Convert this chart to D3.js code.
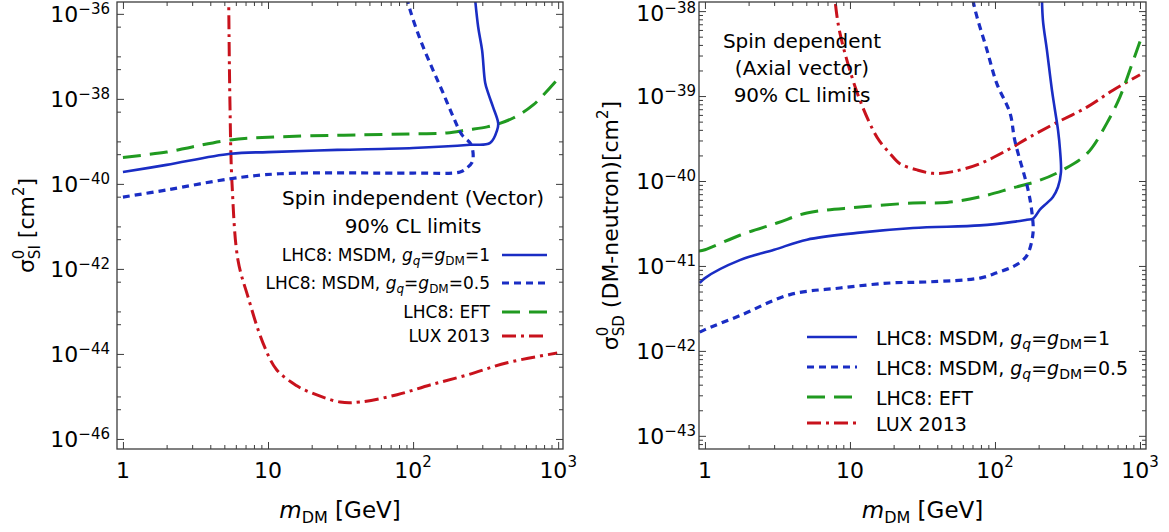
<!DOCTYPE html>
<html>
<head>
<meta charset="utf-8">
<script src="https://cdn.jsdelivr.net/npm/d3@7"></script>
<style>
body { margin: 0; background: #fff; }
svg text { font-family: "DejaVu Sans", "Liberation Sans", sans-serif; fill: #000; white-space: pre; }
</style>
</head>
<body>
<div id="chart"></div>
<script>

// ---------- data ----------
// spin independent (left panel)
var siMsdm1Mass   = [1, 2, 5.5, 10, 30, 100, 247, 340, 380, 386, 356, 329, 314, 299, 281, 264];
var siMsdm1Sigma  = [1.9e-40, 2.8e-40, 5.1e-40, 5.6e-40, 6.3e-40, 7e-40, 8.3e-40, 9.2e-40, 1.86e-39, 2.7e-39, 6.4e-39, 1.38e-38, 2.4e-38, 1.4e-37, 4.9e-37, 3.6e-36];
var siMsdm05Mass  = [1, 2, 5.5, 12, 100, 211, 236, 255, 259, 247, 218, 189, 161, 137, 112, 95.3, 88];
var siMsdm05Sigma = [4.9e-41, 7.2e-41, 1.32e-40, 1.73e-40, 1.8e-40, 1.9e-40, 2.4e-40, 3.2e-40, 5.4e-40, 9.2e-40, 1.4e-39, 3.8e-39, 1.38e-38, 4.8e-38, 2.5e-37, 1.24e-36, 3.6e-36];
var siEftMass     = [1, 2, 3, 5.5, 12, 100, 171, 236, 324, 386, 490, 673, 984];
var siEftSigma    = [4.2e-40, 5.6e-40, 7.4e-40, 1.08e-39, 1.28e-39, 1.5e-39, 1.58e-39, 1.86e-39, 2.19e-39, 2.57e-39, 3.55e-39, 7.2e-39, 2.8e-38];
var siLuxMass     = [5.35, 5.46, 5.65, 6.21, 7.28, 9.24, 11.5, 15.8, 18, 31.4, 43, 77.6, 131, 236, 445, 985];
var siLuxSigma    = [4e-36, 9.5e-39, 1e-40, 1.6e-42, 2.2e-43, 1.8e-44, 4.2e-45, 1.78e-45, 1.4e-45, 7.4e-46, 7.4e-46, 1.1e-45, 1.86e-45, 3.2e-45, 6.2e-45, 1.05e-44];

// spin dependent (right panel)
var sdMsdm1Mass   = [0.92, 1, 1.74, 3, 5.05, 11.2, 27.2, 78.8, 133, 166, 183, 204, 228, 251, 272, 285, 281, 272, 259, 247, 228, 214, 210];
var sdMsdm1Sigma  = [6.3e-42, 7.2e-42, 1.17e-41, 1.55e-41, 2.04e-41, 2.45e-41, 2.8e-41, 3.0e-41, 3.3e-41, 3.5e-41, 3.6e-41, 4.6e-41, 5.5e-41, 6.5e-41, 8.5e-41, 1.26e-40, 2.3e-40, 4e-40, 6.9e-40, 1.18e-39, 3.5e-39, 7.9e-39, 2e-38];
var sdMsdm05Mass  = [0.92, 1, 1.74, 3.86, 8.53, 18.9, 35.6, 78.8, 103, 133, 156, 169, 183, 180, 169, 137, 127, 103, 88, 75.2, 70.5, 68];
var sdMsdm05Sigma = [1.66e-42, 1.78e-42, 2.6e-42, 4.6e-42, 5.5e-42, 6.3e-42, 6.5e-42, 7.2e-42, 8.3e-42, 9.8e-42, 1.17e-41, 1.4e-41, 2.45e-41, 4.2e-41, 7.9e-41, 3e-40, 6.3e-40, 1.4e-39, 3.5e-39, 8.5e-39, 1.35e-38, 2.2e-38];
var sdEftMass     = [0.91, 1, 1.74, 3.14, 5.05, 11.2, 27.2, 46.7, 78.8, 133, 204, 294, 431, 591, 728, 853, 1000];
var sdEftSigma    = [1.5e-41, 1.55e-41, 2.3e-41, 3.2e-41, 4.2e-41, 4.9e-41, 5.5e-41, 5.6e-41, 6.5e-41, 8.3e-41, 1.02e-40, 1.35e-40, 2.1e-40, 4.8e-40, 9.8e-40, 2.04e-39, 4.4e-39];
var sdLuxMass     = [7.6, 7.88, 8.53, 11.2, 14.4, 16.1, 18.9, 22.1, 29, 37.4, 51.3, 78.8, 121, 174, 268, 431, 651, 1000];
var sdLuxSigma    = [2.5e-38, 1.35e-38, 5.5e-39, 1.1e-39, 4e-40, 2.9e-40, 2.1e-40, 1.6e-40, 1.35e-40, 1.23e-40, 1.29e-40, 1.6e-40, 2.3e-40, 3.3e-40, 4.9e-40, 7.4e-40, 1.17e-39, 1.78e-39];

// ticks
var xTickVals  = [1, 10, 100, 1000];
var xTickText  = [["1"], ["10"], ["10", "2"], ["10", "3"]];
var siTickExps = [-46, -44, -42, -40, -38, -36];
var sdTickExps = [-43, -42, -41, -40, -39, -38];

// texts
var siNote = ["Spin independent (Vector)", "90% CL limits"];
var sdNote = ["Spin dependent", "(Axial vector)", "90% CL limits"];
var legendKeys = ["msdm1", "msdm05", "eft", "lux"];
var legendTail = { msdm1: "=1", msdm05: "=0.5" };
var legendPlain = { eft: "LHC8: EFT", lux: "LUX 2013" };

// ---------- styles ----------
var blue = "#1a2dc4", green = "#209a20", red = "#c8121c", frameColor = "#3c3c3c";
var styles = {
	msdm1:  { color: blue,  dash: null,       width: 2.6 },
	msdm05: { color: blue,  dash: "7,5",      width: 3.2 },
	eft:    { color: green, dash: "18,9",     width: 3 },
	lux:    { color: red,   dash: "14,5,3,5", width: 3 }
};

var svg = d3.select("#chart").append("svg").attr("width", 1169).attr("height", 532);

// place runs of text one after the other (super/subscripts, italics)
function placeRuns(g, runs, size) {
	var x = 0, stackX = 0;
	runs.forEach(function(r) {
		var x0 = r.stack ? stackX : x;
		var t = g.append("text").attr("x", x0).attr("y", r.y || 0)
			.style("font-size", (r.s || size) + "px").text(r.t);
		if (r.it) t.style("font-style", "italic");
		var w = t.node().getComputedTextLength();
		if (r.stack) x = Math.max(x, x0 + w);
		else { stackX = x0; x = x0 + w; }
	});
	return x;
}

function rich(parent, x, y, runs, size, anchor, rot) {
	var outer = parent.append("g").attr("transform", "translate(" + x + "," + y + ")" + (rot ? " rotate(" + rot + ")" : ""));
	var inner = outer.append("g");
	var w = placeRuns(inner, runs, size);
	var shift = anchor == "middle" ? -w / 2 : (anchor == "end" ? -w : 0);
	inner.attr("transform", "translate(" + shift + ",0)");
	return outer;
}

function legendRuns(key, sub) {
	if (legendPlain[key]) return [{ t: legendPlain[key] }];
	return [{ t: "LHC8: MSDM,\u00a0" }, { t: "g", it: true }, { t: "q", it: true, s: sub, y: 4 },
		{ t: "=" }, { t: "g", it: true }, { t: "DM", s: sub, y: 4 }, { t: legendTail[key] }];
}

function styled(sel, key) {
	var st = styles[key];
	sel.attr("fill", "none").attr("stroke", st.color).attr("stroke-width", st.width)
		.attr("stroke-dasharray", st.dash);
	return sel;
}

function drawPanel(p) {
	var g = svg.append("g");
	var x = d3.scaleLog().domain(p.xDomain).range([p.left, p.right]);
	var y = d3.scaleLog().domain(p.yDomain).range([p.bottom, p.top]);

	svg.append("clipPath").attr("id", "clip" + p.id).append("rect")
		.attr("x", p.left).attr("y", p.top).attr("width", p.right - p.left).attr("height", p.bottom - p.top);

	var line = d3.line().x(function(d) { return x(d[0]); }).y(function(d) { return y(d[1]); })
		.curve(d3.curveCatmullRom.alpha(0.5));

	var curves = g.append("g").attr("clip-path", "url(#clip" + p.id + ")");
	p.series.forEach(function(s) {
		styled(curves.append("path"), s.key).attr("d", line(d3.zip(s.mass, s.sigma)));
	});

	// frame
	g.append("rect").attr("x", p.left).attr("y", p.top).attr("width", p.right - p.left)
		.attr("height", p.bottom - p.top).attr("fill", "none").attr("stroke", frameColor).attr("stroke-width", 1.3);

	// ticks on all four sides, pointing inward
	function ticks(axisFn, scale, vals, len, tr) {
		var a = g.append("g").attr("transform", tr)
			.call(axisFn(scale).tickValues(vals).tickSizeInner(-len).tickSizeOuter(0).tickFormat(""));
		a.select(".domain").remove();
		a.selectAll("line").attr("stroke", frameColor).attr("stroke-width", 1);
	}
	var xMinor = [];
	[1, 10, 100].forEach(function(d) { for (var k = 2; k <= 9; k++) xMinor.push(k * d); });
	var yMajor = p.yTicks.map(function(e) { return Math.pow(10, e); });
	[[xTickVals, 7], [xMinor, 4]].forEach(function(tv) {
		ticks(d3.axisBottom, x, tv[0], tv[1], "translate(0," + p.bottom + ")");
		ticks(d3.axisTop, x, tv[0], tv[1], "translate(0," + p.top + ")");
	});
	[[yMajor, 7], [p.yMinor, 4]].forEach(function(tv) {
		ticks(d3.axisLeft, y, tv[0], tv[1], "translate(" + p.left + ",0)");
		ticks(d3.axisRight, y, tv[0], tv[1], "translate(" + p.right + ",0)");
	});

	// tick labels
	xTickVals.forEach(function(v, i) {
		var r = [{ t: xTickText[i][0] }];
		if (xTickText[i][1]) r.push({ t: xTickText[i][1], s: 15, y: -11 });
		rich(g, x(v), p.bottom + 29, r, 22, "middle");
	});
	p.yTicks.forEach(function(e) {
		// keep the top label's exponent inside the picture
		var base = Math.max(y(Math.pow(10, e)) + 8, 21);
		rich(g, p.left - p.labelGap, base,
			[{ t: "10" }, { t: "\u2212" + Math.abs(e), s: 15, y: -8 }], 22, "end");
	});

	// axis titles
	rich(g, (p.left + p.right) / 2, 518, [{ t: "m", it: true }, { t: "DM", s: 16, y: 5 }, { t: "\u00a0[GeV]" }], 23, "middle");
	rich(g, p.yTitleX, (p.top + p.bottom) / 2, p.yTitle, 22, "middle", -90);

	// note
	p.note.forEach(function(t, i) {
		g.append("text").attr("x", p.noteX).attr("y", p.noteY[i]).attr("text-anchor", "middle")
			.style("font-size", "20px").text(t);
	});

	// legend
	legendKeys.forEach(function(k, i) {
		var ly = p.legY[i];
		styled(g.append("line"), k).attr("x1", p.legLine[0]).attr("x2", p.legLine[1]).attr("y1", ly).attr("y2", ly);
		rich(g, p.legTextX, ly + p.legBase, legendRuns(k, p.legSub), p.legSize, p.legAnchor);
	});
}

// minor y ticks
var siMinor = [], sdMinor = [];
for (var e = -47; e <= -36; e++) {
	if (e % 2 != 0) siMinor.push(Math.pow(10, e));
	siMinor.push(5 * Math.pow(10, e));
}
for (var e2 = -44; e2 <= -38; e2++) for (var k = 2; k <= 9; k++) sdMinor.push(k * Math.pow(10, e2));
siMinor = siMinor.filter(function(v) { return v > 5.8e-47 && v < 1.9e-36; });
sdMinor = sdMinor.filter(function(v) { return v > 7e-44 && v < 1.28e-38; });

drawPanel({
	id: "si", left: 117, right: 563, top: 2, bottom: 449,
	xDomain: [0.91, 1080], yDomain: [5.8e-47, 1.9e-36],
	yTicks: siTickExps, yMinor: siMinor, labelGap: 7,
	series: [
		{ key: "lux", mass: siLuxMass, sigma: siLuxSigma },
		{ key: "eft", mass: siEftMass, sigma: siEftSigma },
		{ key: "msdm05", mass: siMsdm05Mass, sigma: siMsdm05Sigma },
		{ key: "msdm1", mass: siMsdm1Mass, sigma: siMsdm1Sigma }
	],
	yTitleX: 34,
	yTitle: [{ t: "\u03c3" }, { t: "0", s: 15, y: -10 }, { t: "SI", s: 15, y: 6, stack: true }, { t: "\u00a0[cm" }, { t: "2", s: 15, y: -10 }, { t: "]" }],
	note: siNote, noteX: 413, noteY: [205, 233],
	legY: [255, 283, 312, 336], legLine: [502, 547], legTextX: 490, legBase: 6,
	legSize: 17, legSub: 12, legAnchor: "end"
});

drawPanel({
	id: "sd", left: 699, right: 1146, top: 2, bottom: 449,
	xDomain: [0.91, 1100], yDomain: [7e-44, 1.28e-38],
	yTicks: sdTickExps, yMinor: sdMinor, labelGap: 3,
	series: [
		{ key: "lux", mass: sdLuxMass, sigma: sdLuxSigma },
		{ key: "eft", mass: sdEftMass, sigma: sdEftSigma },
		{ key: "msdm05", mass: sdMsdm05Mass, sigma: sdMsdm05Sigma },
		{ key: "msdm1", mass: sdMsdm1Mass, sigma: sdMsdm1Sigma }
	],
	yTitleX: 618,
	yTitle: [{ t: "\u03c3" }, { t: "0", s: 15, y: -10 }, { t: "SD", s: 15, y: 6, stack: true }, { t: "\u00a0(DM-neutron)[cm" }, { t: "2", s: 15, y: -10 }, { t: "]" }],
	note: sdNote, noteX: 802, noteY: [48, 75, 102],
	legY: [337, 367, 397, 423], legLine: [807, 857], legTextX: 876, legBase: 8,
	legSize: 19, legSub: 14, legAnchor: "start"
});

</script>
</body>
</html>
